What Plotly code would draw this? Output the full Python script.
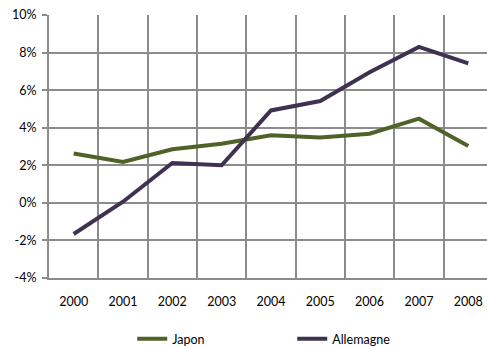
import plotly.graph_objects as go

years = ["2000", "2001", "2002", "2003", "2004", "2005", "2006", "2007", "2008"]
japon = [2.63, 2.18, 2.85, 3.15, 3.6, 3.48, 3.68, 4.48, 3.02]
allemagne = [-1.66, 0.06, 2.12, 2.0, 4.92, 5.42, 6.95, 8.3, 7.42]
y_ticks = [-4, -2, 0, 2, 4, 6, 8, 10]

font_family = "Lato, 'Open Sans', sans-serif"
grid_color = "#8c8c8c"

fig = go.Figure()
fig.add_trace(go.Scatter(x=years, y=japon, name="Japon", mode="lines",
                         line=dict(color="#4f6228", width=4)))
fig.add_trace(go.Scatter(x=years, y=allemagne, name="Allemagne", mode="lines",
                         line=dict(color="#3f3151", width=4)))

fig.update_layout(
    width=487, height=347,
    margin=dict(l=49, r=0, t=15, b=69),
    paper_bgcolor="white", plot_bgcolor="white",
    font=dict(family=font_family, size=12.5, color="#000000"),
    showlegend=True,
    legend=dict(orientation="h", x=0.19, xanchor="left",
                yref="container", y=0.066, yanchor="top",
                font=dict(size=12.5), itemwidth=30, tracegroupgap=0,
                entrywidth=115, entrywidthmode="pixels",
                bgcolor="rgba(0,0,0,0)"),
    xaxis=dict(type="category", range=[-0.5, 8.38], tickson="boundaries",
               showgrid=True, gridcolor=grid_color, gridwidth=2,
               showline=True, linecolor=grid_color, linewidth=2,
               ticks="", ticklen=0, ticklabelstandoff=11,
               tickfont=dict(size=12.5), zeroline=False),
    yaxis=dict(range=[-4, 10], tickvals=y_ticks, ticktext=[f"{v}%" for v in y_ticks],
               showgrid=True, gridcolor=grid_color, gridwidth=2,
               showline=True, linecolor=grid_color, linewidth=2,
               ticks="outside", ticklen=5, tickcolor=grid_color, tickwidth=2,
               ticklabelstandoff=3,
               zeroline=False, tickfont=dict(size=12.5)),
)

fig.write_html("out.html")
